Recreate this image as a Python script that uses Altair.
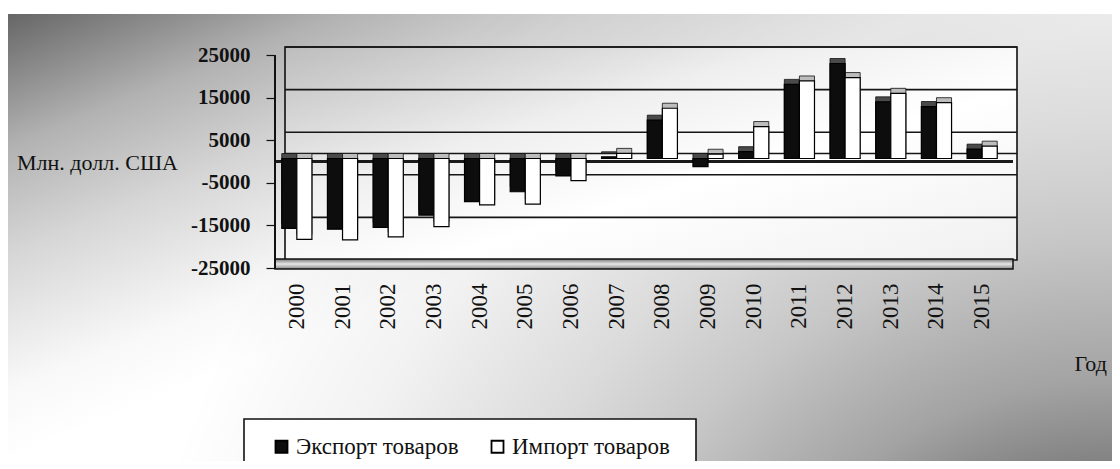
import altair as alt
import pandas as pd

# ---------------- data ----------------
years = [str(y) for y in range(2000, 2016)]
export_vals = [-16400, -16600, -16200, -13300, -10100, -7800, -4100, 400,
               9000, -1900, 1600, 17400, 22300, 13300, 12200, 2200]
import_vals = [-19000, -19100, -18400, -16000, -10900, -10700, -5200, 1200,
               11800, 1000, 7500, 18200, 19000, 15300, 13100, 2900]
series_names = ["Экспорт товаров", "Импорт товаров"]
y_ticks = [25000, 15000, 5000, -5000, -15000, -25000]
grid_values = [25000, 15000, 5000, 0, -5000, -15000]
y_title = "Млн. долл. США"
x_title = "Год"

rows = []
for i, yr in enumerate(years):
    rows.append({"year": yr, "series": series_names[0], "shade": "e", "value": export_vals[i]})
    rows.append({"year": yr, "series": series_names[1], "shade": "i", "value": import_vals[i]})
bars_df = pd.DataFrame(rows)
grid_df = pd.DataFrame({"value": grid_values})
zero_df = pd.DataFrame({"value": [0]})
one_df = pd.DataFrame({"k": [0]})

W, H = 731, 213
PAD = {"left": 266, "top": 39, "right": 107, "bottom": 201}
FONT = "Liberation Serif"

yscale = alt.Scale(domain=[-25000, 25000], nice=False, zero=False)
xscale = alt.Scale(domain=years, paddingInner=0.34, paddingOuter=0.17)

# ---------------- background ----------------
bg_lin = alt.LinearGradient(
    gradient="linear", x1=0, y1=0, x2=1, y2=1,
    stops=[alt.GradientStop(offset=0, color="#666666"),
           alt.GradientStop(offset=0.15, color="#b2b2b2"),
           alt.GradientStop(offset=0.27, color="#d6d6d6"),
           alt.GradientStop(offset=0.42, color="#f8f8f8"),
           alt.GradientStop(offset=0.5, color="#ffffff"),
           alt.GradientStop(offset=1, color="#ffffff")])
bg_rad = alt.RadialGradient(
    gradient="radial", x1=1, y1=1, r1=0, x2=1, y2=1, r2=1.0,
    stops=[alt.GradientStop(offset=0, color="rgba(0,0,0,0.95)"),
           alt.GradientStop(offset=0.12, color="rgba(0,0,0,0.8)"),
           alt.GradientStop(offset=0.25, color="rgba(0,0,0,0.57)"),
           alt.GradientStop(offset=0.37, color="rgba(0,0,0,0.36)"),
           alt.GradientStop(offset=0.5, color="rgba(0,0,0,0.22)"),
           alt.GradientStop(offset=0.6, color="rgba(0,0,0,0.14)"),
           alt.GradientStop(offset=0.75, color="rgba(0,0,0,0.05)"),
           alt.GradientStop(offset=0.9, color="rgba(0,0,0,0)"),
           alt.GradientStop(offset=1, color="rgba(0,0,0,0)")])

bg_pos = dict(x=alt.value(-PAD["left"] - 1), x2=alt.value(W + PAD["right"]),
              y=alt.value(-PAD["top"] + 6), y2=alt.value(H + PAD["bottom"]))
bg1 = alt.Chart(one_df).mark_rect(fill=bg_lin, strokeWidth=0).encode(**bg_pos)
bg2 = alt.Chart(one_df).mark_rect(fill=bg_rad, strokeWidth=0).encode(**bg_pos)

wall_grad = alt.LinearGradient(
    gradient="linear", x1=0, y1=0, x2=1, y2=1,
    stops=[alt.GradientStop(offset=0, color="#bdbdbd"),
           alt.GradientStop(offset=0.35, color="#efefef"),
           alt.GradientStop(offset=0.6, color="#ffffff"),
           alt.GradientStop(offset=1, color="#f0f0f0")])
wall = alt.Chart(one_df).mark_rect(fill=wall_grad, stroke="#111111", strokeWidth=1.6).encode(
    x=alt.value(11), x2=alt.value(W + 12), y=alt.value(0), y2=alt.value(H))

grid = alt.Chart(grid_df).mark_rule(color="#151515", strokeWidth=1.6).encode(
    y=alt.Y("value:Q", scale=yscale),
    x=alt.value(11), x2=alt.value(W + 12))

floor_grad = alt.LinearGradient(
    gradient="linear", x1=0, y1=0, x2=0, y2=1,
    stops=[alt.GradientStop(offset=0, color="#777777"),
           alt.GradientStop(offset=0.5, color="#e6e6e6"),
           alt.GradientStop(offset=1, color="#888888")])
floor = alt.Chart(one_df).mark_rect(fill=floor_grad, stroke="#111111", strokeWidth=1.5).encode(
    x=alt.value(1), x2=alt.value(W + 8), y=alt.value(H - 1), y2=alt.value(H + 9))

zero_line = alt.Chart(zero_df).mark_rule(color="#1a1a1a", strokeWidth=3, yOffset=8).encode(
    y=alt.Y("value:Q", scale=yscale),
    x=alt.value(1), x2=alt.value(W + 8))

# legend frame (box cut by the bottom edge, as in the reference)
legend_box = alt.Chart(one_df).mark_rect(fill="white", stroke="#111111", strokeWidth=1.6).encode(
    x=alt.value(-30), x2=alt.value(422), y=alt.value(372), y2=alt.value(H + PAD["bottom"] + 10))

# ---------------- bars ----------------
depth = alt.Chart(bars_df).mark_bar(xOffset=5, stroke="#111111", strokeWidth=0.8).encode(
    x=alt.X("year:N", scale=xscale, sort=years),
    xOffset=alt.XOffset("series:N", sort=series_names),
    y=alt.Y("value:Q", scale=yscale),
    fill=alt.Fill("shade:N", scale=alt.Scale(domain=["e", "i"], range=["#4a4a4a", "#bdbdbd"]),
                  legend=None),
)

front = alt.Chart(bars_df).mark_bar(xOffset=1, yOffset=5, stroke="#000000", strokeWidth=1.2).encode(
    x=alt.X("year:N", scale=xscale, sort=years,
            axis=alt.Axis(title=x_title, labelAngle=-90, labelFont=FONT, labelFontSize=23,
                          labelColor="#111111", ticks=False, domain=False, grid=False,
                          labelPadding=23, titleFont=FONT, titleFontSize=22,
                          titleFontWeight="normal", titleColor="#111111", zindex=2,
                          titleX=800, titleY=103, titleAlign="left", titleBaseline="middle")),
    xOffset=alt.XOffset("series:N", sort=series_names),
    y=alt.Y("value:Q", scale=yscale,
            axis=alt.Axis(values=y_ticks, grid=False, domain=False, tickSize=8, tickOffset=8,
                          tickColor="#111111", tickWidth=1.2, zindex=2,
                          labelPadding=16, labelFont=FONT, labelFontSize=21,
                          labelFontWeight="bold", labelColor="#111111",
                          labelExpr="datum.value < 0 ? '-' + abs(datum.value) : '' + datum.value",
                          title=y_title, titleAngle=0, titleX=-177, titleY=115,
                          titleAlign="center", titleBaseline="middle", titleFont=FONT,
                          titleFontSize=22, titleFontWeight="normal", titleColor="#111111")),
    color=alt.Color("series:N", sort=series_names,
                    scale=alt.Scale(domain=series_names, range=["#0d0d0d", "#ffffff"]),
                    legend=alt.Legend(title=None, orient="none", legendX=-4, legendY=388,
                                      direction="horizontal", padding=0,
                                      symbolType="square", symbolSize=144,
                                      symbolStrokeColor="black", symbolStrokeWidth=1.8,
                                      symbolOpacity=1, labelFont=FONT, labelFontSize=23,
                                      labelLimit=400,
                                      labelColor="#111111", labelOffset=3, columnPadding=27)),
)

yaxis_line = alt.Chart(one_df).mark_rule(color="#111111", strokeWidth=2).encode(
    x=alt.value(1), y=alt.value(8), y2=alt.value(H + 9))

chart = alt.layer(bg1, bg2, wall, grid, floor, zero_line, legend_box, depth, front,
                  yaxis_line).properties(
    width=W, height=H,
    autosize=alt.AutoSizeParams(type="none"),
    padding=PAD,
).configure(background="white").configure_view(stroke=None)

chart.save("out.html", embed_options={"renderer": "svg", "actions": False})
